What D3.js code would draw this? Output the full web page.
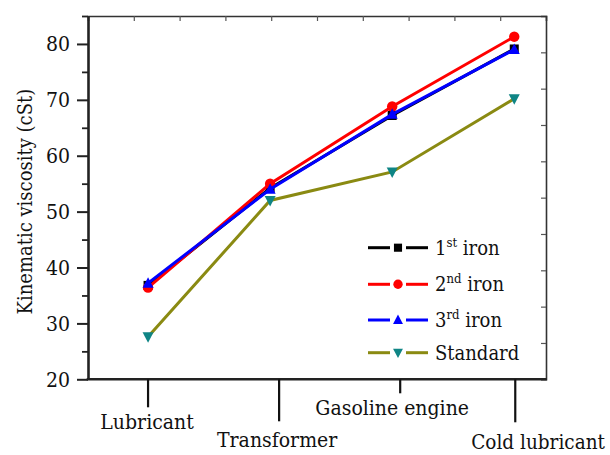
<!DOCTYPE html>
<html>
<head>
<meta charset="utf-8">
<script src="https://cdn.jsdelivr.net/npm/d3@7"></script>
<style>
  html, body { margin: 0; padding: 0; background: #fff; }
  svg { display: block; }
</style>
</head>
<body>
<svg id="chart" width="610" height="455"></svg>
<script>
// ---- data ----
const categories = ["Lubricant", "Transformer", "Gasoline engine", "Cold lubricant"];
const iron1 = [36.8, 54.2, 67.2, 79.1];
const iron2 = [36.4, 55.0, 68.8, 81.3];
const iron3 = [37.2, 54.0, 67.4, 79.0];
const standard = [27.6, 52.0, 57.1, 70.2];
const yTicks = [20, 30, 40, 50, 60, 70, 80];
const seriesNames = [["1", "st", " iron"], ["2", "nd", " iron"], ["3", "rd", " iron"], ["Standard", "", ""]];

// ---- layout / style (not data) ----
const FONT = "DejaVu Serif Condensed";
const W = 610, H = 455;
const plot = { left: 88, right: 546, top: 16, bottom: 379.3 };
const catLayout = [
  { tickDx: 0, tickLen: 28, labelDx: -1, labelY: 429, anchor: "middle", size: 21 },
  { tickDx: 9, tickLen: 42, labelDx: 7, labelY: 447, anchor: "middle", size: 21 },
  { tickDx: 8, tickLen: 14, labelDx: 0, labelY: 415, anchor: "middle", size: 21 },
  { tickDx: 1, tickLen: 43, labelDx: -43, labelY: 449, anchor: "start", size: 20.5 }
];
const styles = [
  { line: "#000000", fill: "#000000", marker: "square" },
  { line: "#ff0000", fill: "#ff0000", marker: "circle" },
  { line: "#0000ff", fill: "#0000ff", marker: "triangle" },
  { line: "#8a8a12", fill: "#0f8585", marker: "triangleDown" }
];
const allSeries = [iron1, iron2, iron3, standard];

const svg = d3.select("#chart");
const x = d3.scaleLinear().domain([-0.492, 3.26]).range([plot.left, plot.right]);
const y = d3.scaleLinear().domain([20, 85]).range([plot.bottom, plot.top]);

function serif(sel, size) {
  return sel.attr("font-family", FONT).attr("font-stretch", "condensed")
    .attr("font-size", size).attr("fill", "#111");
}

// frame: top & right with inward minor ticks
const topScale = d3.scaleLinear().domain([0, 10]).range([plot.left, plot.right]);
const rightScale = d3.scaleLinear().domain([0, 10]).range([plot.top, plot.bottom]);
svg.append("g").attr("transform", `translate(0,${plot.top})`)
  .call(d3.axisBottom(topScale).tickValues(d3.range(1, 10)).tickSize(5).tickFormat(""))
  .call(g => g.select(".domain").attr("stroke", "#333").attr("stroke-width", 1.6))
  .call(g => g.selectAll(".tick line").attr("stroke", "#555").attr("stroke-width", 1.2));
svg.append("g").attr("transform", `translate(${plot.right},0)`)
  .call(d3.axisLeft(rightScale).tickValues(d3.range(1, 10)).tickSize(5).tickFormat(""))
  .call(g => g.select(".domain").attr("stroke", "#333").attr("stroke-width", 1.6))
  .call(g => g.selectAll(".tick line").attr("stroke", "#555").attr("stroke-width", 1.2));

// left axis major + minor
svg.append("g").attr("transform", `translate(${plot.left},0)`)
  .call(d3.axisLeft(y).tickValues(yTicks.map(v => v + 5)).tickSize(6).tickFormat(""))
  .call(g => g.select(".domain").remove())
  .call(g => g.selectAll(".tick line").attr("stroke", "#222").attr("stroke-width", 1.8));
svg.append("g").attr("transform", `translate(${plot.left},0)`)
  .call(d3.axisLeft(y).tickValues(yTicks).tickSize(11).tickPadding(7).tickSizeOuter(0))
  .call(g => g.select(".domain").attr("stroke", "#222").attr("stroke-width", 2.6))
  .call(g => g.selectAll(".tick line").attr("stroke", "#222").attr("stroke-width", 2))
  .call(g => serif(g.selectAll(".tick text"), 21));

// bottom axis line
svg.append("line")
  .attr("x1", plot.left - 1.3).attr("x2", plot.right + 0.8)
  .attr("y1", plot.bottom).attr("y2", plot.bottom)
  .attr("stroke", "#222").attr("stroke-width", 2.6);

// category ticks & labels
const catG = svg.append("g");
categories.forEach((c, i) => {
  const L = catLayout[i];
  const cx = x(i);
  catG.append("line")
    .attr("x1", cx + L.tickDx).attr("x2", cx + L.tickDx)
    .attr("y1", plot.bottom).attr("y2", plot.bottom + L.tickLen)
    .attr("stroke", "#111").attr("stroke-width", 2.2);
  serif(catG.append("text"), L.size)
    .attr("x", cx + L.labelDx).attr("y", L.labelY)
    .attr("text-anchor", L.anchor)
    .text(c);
});

// y label
serif(svg.append("text"), 20)
  .attr("transform", `translate(32,${(plot.top + plot.bottom) / 2 + 4}) rotate(-90)`)
  .attr("text-anchor", "middle")
  .text("Kinematic viscosity (cSt)");

// marker drawing
function marker(g, type, cx, cy, fill, s) {
  s = s || 1;
  if (type === "square") {
    g.append("rect").attr("x", cx - 4.5 * s).attr("y", cy - 4.5 * s)
      .attr("width", 9 * s).attr("height", 9 * s).attr("fill", fill);
  } else if (type === "circle") {
    g.append("circle").attr("cx", cx).attr("cy", cy).attr("r", 5.2 * s).attr("fill", fill);
  } else if (type === "triangle") {
    g.append("path").attr("d", `M${cx},${cy - 6 * s}L${cx + 5.5 * s},${cy + 4.5 * s}L${cx - 5.5 * s},${cy + 4.5 * s}Z`).attr("fill", fill);
  } else {
    g.append("path").attr("d", `M${cx},${cy + 6 * s}L${cx + 5.5 * s},${cy - 4.5 * s}L${cx - 5.5 * s},${cy - 4.5 * s}Z`).attr("fill", fill);
  }
}

// series
const lineGen = d3.line().x((d, i) => x(i)).y(d => y(d));
allSeries.forEach((vals, k) => {
  const st = styles[k];
  const g = svg.append("g");
  g.append("path").datum(vals).attr("d", lineGen)
    .attr("fill", "none").attr("stroke", st.line).attr("stroke-width", 3);
  vals.forEach((v, i) => marker(g, st.marker, x(i), y(v), st.fill));
});

// legend
const legRows = [247.7, 284.3, 320, 352.7];
const leg = svg.append("g");
seriesNames.forEach((nm, k) => {
  const st = styles[k];
  const yy = legRows[k];
  leg.append("line").attr("x1", 368).attr("x2", 390).attr("y1", yy).attr("y2", yy)
    .attr("stroke", st.line).attr("stroke-width", 3);
  leg.append("line").attr("x1", 406).attr("x2", 428).attr("y1", yy).attr("y2", yy)
    .attr("stroke", st.line).attr("stroke-width", 3);
  marker(leg, st.marker, 398, yy, st.fill, 0.9);
  const t = serif(leg.append("text"), 20).attr("x", 435).attr("y", yy + 7);
  t.append("tspan").text(nm[0]);
  if (nm[1]) {
    t.append("tspan").attr("font-size", 13).attr("dy", -8).text(nm[1]);
    t.append("tspan").attr("dy", 8).text(nm[2]);
  }
});
</script>
</body>
</html>
